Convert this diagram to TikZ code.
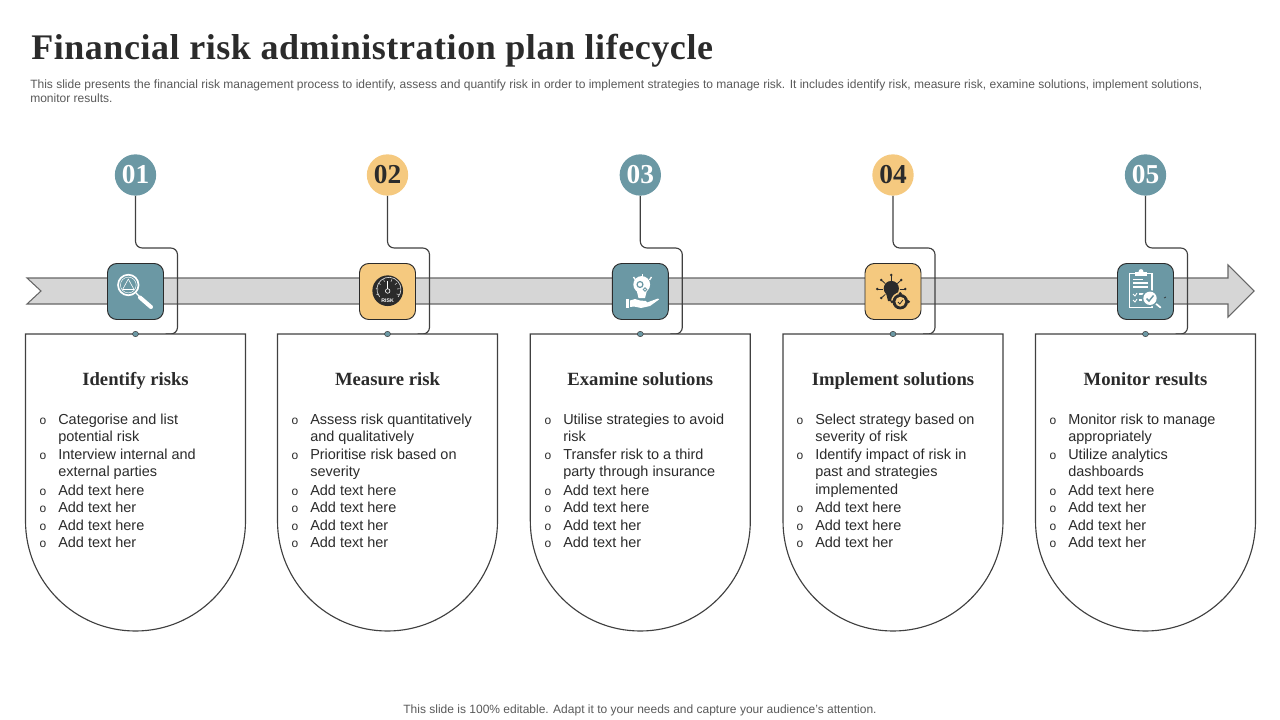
\documentclass[tikz,border=0pt]{standalone}
\usepackage{fontspec}
\setmainfont{Liberation Sans}
\newfontfamily\serifb{Liberation Serif}
\usetikzlibrary{calc,shapes.geometric}
\definecolor{teal}{HTML}{6B98A4}
\definecolor{gold}{HTML}{F5C97F}
\definecolor{band}{HTML}{D6D6D6}
\definecolor{ink}{HTML}{2B2B2B}
\definecolor{wire}{HTML}{404040}
\definecolor{note}{HTML}{595959}
\tikzset{
  x=0.75pt,y=-0.75pt,
  numcirc/.style={circle,inner sep=0pt,minimum size=31pt,font=\serifb\bfseries\fontsize{20.5}{24}\selectfont},
  iconbox/.style={rounded corners=7pt,draw=ink,line width=0.7pt,minimum size=42pt,inner sep=0pt},
  link/.style={draw=wire,line width=0.85pt},
  heading/.style={anchor=base,font=\serifb\bfseries\fontsize{14}{16}\selectfont,text=ink,inner sep=0pt},
  bodytxt/.style={anchor=north west,align=left,inner sep=0pt,text=ink,font=\fontsize{10.85}{13.2}\selectfont},
  bull/.style={anchor=center,inner sep=0pt,text=ink,font=\fontsize{9}{10}\selectfont},
  dotn/.style={ellipse,fill=teal,draw=wire,line width=0.4pt,inner sep=0pt,minimum width=4.5pt,minimum height=4pt},
}
% #1 id, #2 centre x, #3 colour, #4 number colour, #5 number, #6 heading
\newcommand{\stage}[6]{%
  \node[numcirc,fill=#3,text=#4] (n#1) at (#2,175) {#5};
  \coordinate (a#1) at ($(#2,248)+(42,0)$);
  \coordinate (b#1) at ($(#2,334)+(42,0)$);
  \coordinate (e#1) at ($(#2,334)+(30,0)$);
  \coordinate (t#1) at (#2,248);
  \draw[link,rounded corners=5pt] (n#1.south) -- (t#1) -- (a#1) -- (b#1) -- (e#1);
  \draw[link,fill=white] ($(#2,334)+(-110,0)$) -- ($(#2,334)+(110,0)$) -- ($(#2,521)+(110,0)$) arc[start angle=0,end angle=-180,x radius=82.5pt,y radius=82.5pt] -- cycle;
  \node[iconbox,fill=#3] (i#1) at (#2,291.5) {};
  \node[dotn] (d#1) at (#2,334) {};
  \node[heading] (h#1) at (#2,385) {#6};
}
% #1 name, #2 card centre x, #3 first text y, #4 text
\newcommand{\bitem}[4]{%
  \node[bull] (u#1) at ($(#2,#3)+(-92,2.5)$) {o};
  \node[bodytxt] (x#1) at ($(#2,#3)+(-77,-5.5)$) {#4};
}
\begin{document}
\begin{tikzpicture}
\useasboundingbox (0,0) rectangle (1280,720);
\node[anchor=base west,inner sep=0pt,text=ink,font=\serifb\bfseries\fontsize{27}{30}\selectfont\addfontfeature{LetterSpace=1.55}] (title) at (31,60) {Financial risk administration plan lifecycle};
\node[anchor=north west,inner sep=0pt,align=left,text=note,font=\fontsize{9.02}{10.5}\selectfont] (sub) at (30,79.5) {This slide presents the financial risk management process to identify, assess and quantify risk in order to implement strategies to manage risk. It includes identify risk, measure risk, examine solutions, implement solutions,\\monitor results.};
\node[inner sep=0pt,text=note,font=\fontsize{9}{11}\selectfont] (foot) at (640,710) {This slide is 100\% editable. Adapt it to your needs and capture your audience's attention.};
% arrow
\draw[fill=band,draw=black!60,line width=0.8pt] (27,278) -- (1228,278) -- (1228,265) -- (1254,291) -- (1228,317) -- (1228,304) -- (27,304) -- (41,291) -- cycle;
\stage{1}{135.5}{teal}{white}{01}{Identify risks}
\stage{2}{387.5}{gold}{ink}{02}{Measure risk}
\stage{3}{640.3}{teal}{white}{03}{Examine solutions}
\stage{4}{893}{gold}{ink}{04}{Implement solutions}
\stage{5}{1145.5}{teal}{white}{05}{Monitor results}
% card 1
\bitem{a1}{135}{419}{Categorise and list\\potential risk}
\bitem{a2}{135}{454}{Interview internal and\\external parties}
\bitem{a3}{135}{490}{Add text here}
\bitem{a4}{135}{507}{Add text her}
\bitem{a5}{135}{525}{Add text here}
\bitem{a6}{135}{542}{Add text her}
% card 2
\bitem{c1}{387}{419}{Assess risk quantitatively\\and qualitatively}
\bitem{c2}{387}{454}{Prioritise risk based on\\severity}
\bitem{c3}{387}{490}{Add text here}
\bitem{c4}{387}{507}{Add text here}
\bitem{c5}{387}{525}{Add text her}
\bitem{c6}{387}{542}{Add text her}
% card 3
\bitem{e1}{640}{419}{Utilise strategies to avoid\\risk}
\bitem{e2}{640}{454}{Transfer risk to a third\\party through insurance}
\bitem{e3}{640}{490}{Add text here}
\bitem{e4}{640}{507}{Add text here}
\bitem{e5}{640}{525}{Add text her}
\bitem{e6}{640}{542}{Add text her}
% card 4
\bitem{g1}{892}{419}{Select strategy based on\\severity of risk}
\bitem{g2}{892}{454}{Identify impact of risk in\\past and strategies\\implemented}
\bitem{g3}{892}{507}{Add text here}
\bitem{g4}{892}{525}{Add text here}
\bitem{g5}{892}{542}{Add text her}
% card 5
\bitem{k1}{1145}{419}{Monitor risk to manage\\appropriately}
\bitem{k2}{1145}{454}{Utilize analytics\\dashboards}
\bitem{k3}{1145}{490}{Add text here}
\bitem{k4}{1145}{507}{Add text her}
\bitem{k5}{1145}{525}{Add text her}
\bitem{k6}{1145}{542}{Add text her}
% icon 1: magnifier
\draw[white,line width=1.3pt] (128.3,285) circle[radius=7.7pt];
\draw[white,line width=0.35pt] (128.3,285) circle[radius=5.9pt];
\draw[white,line width=0.45pt,line join=round] (128.3,279) -- (134,289.5) -- (122.6,289.5) -- cycle;
\draw[white,line width=1pt] (136,293) -- (140,297);
\draw[white,line width=3pt,line cap=round] (140,297.5) -- (151,307);
% icon 2: gauge
\fill[ink] (387.7,290.7) circle[radius=11.5pt];
\draw[band,line width=0.5pt] (379.7,297) arc[start angle=220,end angle=-40,radius=9pt];
\foreach \an in {200,170,140,110,70,40,10,-20}{\draw[band,line width=0.4pt] ($(387.7,290.7)+({9.5*cos(\an)},{-9.5*sin(\an)})$) -- ($(387.7,290.7)+({12*cos(\an)},{-12*sin(\an)})$);}
\draw[white,line width=0.45pt] (387.7,281) -- (387.7,289);
\draw[white,line width=0.45pt] (387.7,291) circle[radius=1.7pt];
\node[inner sep=0pt,text=white,font=\bfseries\fontsize{3.9}{4}\selectfont] (risklbl) at (387.7,300.5) {RISK};
% icon 3: bulb over hand
\fill[white] (641.7,284.5) circle[radius=6.3pt];
\fill[white] (636.5,290) -- (647,290) -- (645,298) -- (638.5,298) -- cycle;
\draw[teal,line width=0.9pt] (640,284.5) circle[radius=2.2pt];
\draw[teal,line width=0.7pt] (645,289.5) circle[radius=1.3pt];
\draw[white,line width=1pt] (642.3,274) -- (642.3,277);
\draw[white,line width=1pt] (633.5,277) -- (635.5,280);
\draw[white,line width=1pt] (651.5,277) -- (649.5,280);
\fill[white] (625.7,299) rectangle (628.7,308);
\fill[white] (630,300.5) -- (635,299) -- (640,300.5) -- (646,301) -- (647,302.5) -- (658,298.5) -- (659,299.5) -- (650,306) -- (641,308) -- (634,306.5) -- (630,307) -- cycle;
% icon 4: bulb with rays
\fill[ink] (891.3,288.5) circle[radius=5.7pt];
\fill[ink] (885.5,291) -- (897,291) -- (893.5,301) -- (888,301) -- cycle;
\foreach \dx/\dy in {0/-14,-14/0,14/0,-10/-9,10/-9,-10/9}{
  \draw[ink,line width=0.6pt] ($(891.3,289)+(0.6*\dx,0.6*\dy)$) -- ($(891.3,289)+(\dx,\dy)$);
  \fill[ink] ($(891.3,289)+(\dx,\dy)$) circle[radius=1pt];
}
\fill[gold] (900.3,301.7) circle[radius=7pt];
\fill[ink] (900.3,301.7) circle[radius=5.8pt];
\fill[ink] (908.5,301.7) circle[radius=1.2pt];
\fill[ink] (900.3,293.5) circle[radius=1.2pt];
\fill[ink] (892,301.7) circle[radius=1.2pt];
\fill[gold] (900.3,301.7) circle[radius=3.7pt];
\draw[ink,line width=0.6pt] (898,302) -- (899.8,304) -- (903,299.8);
% icon 5: clipboard
\draw[white,line width=1pt] (1129.5,273.5) rectangle (1152,307.5);
\fill[white] (1135,272) rectangle (1147,275.5);
\fill[white] (1141,271.5) circle[radius=1.8pt];
\draw[white,line width=0.8pt] (1133,279.5) -- (1143,279.5);
\foreach \yy in {283,287}{\draw[white,line width=0.8pt] (1133,\yy) -- (1148,\yy);}
\foreach \yy in {294,300}{\draw[white,line width=0.6pt] (1133,\yy) -- (1135,\yy+2) -- (1137,\yy-1);\draw[white,line width=0.8pt] (1139,\yy) -- (1144,\yy);}
\draw[white,line width=1.3pt,line cap=round] (1155,303) -- (1160.5,307.5);
\fill[teal] (1150,298.3) circle[radius=6.2pt];
\fill[white] (1150,298.3) circle[radius=5pt];
\draw[teal,line width=1.1pt] (1146.5,298.5) -- (1149,301) -- (1153.5,295.5);
\draw[ink,line width=0.4pt] (1164,297.5) -- (1164.8,298) -- (1166,296.8);
\end{tikzpicture}
\end{document}
